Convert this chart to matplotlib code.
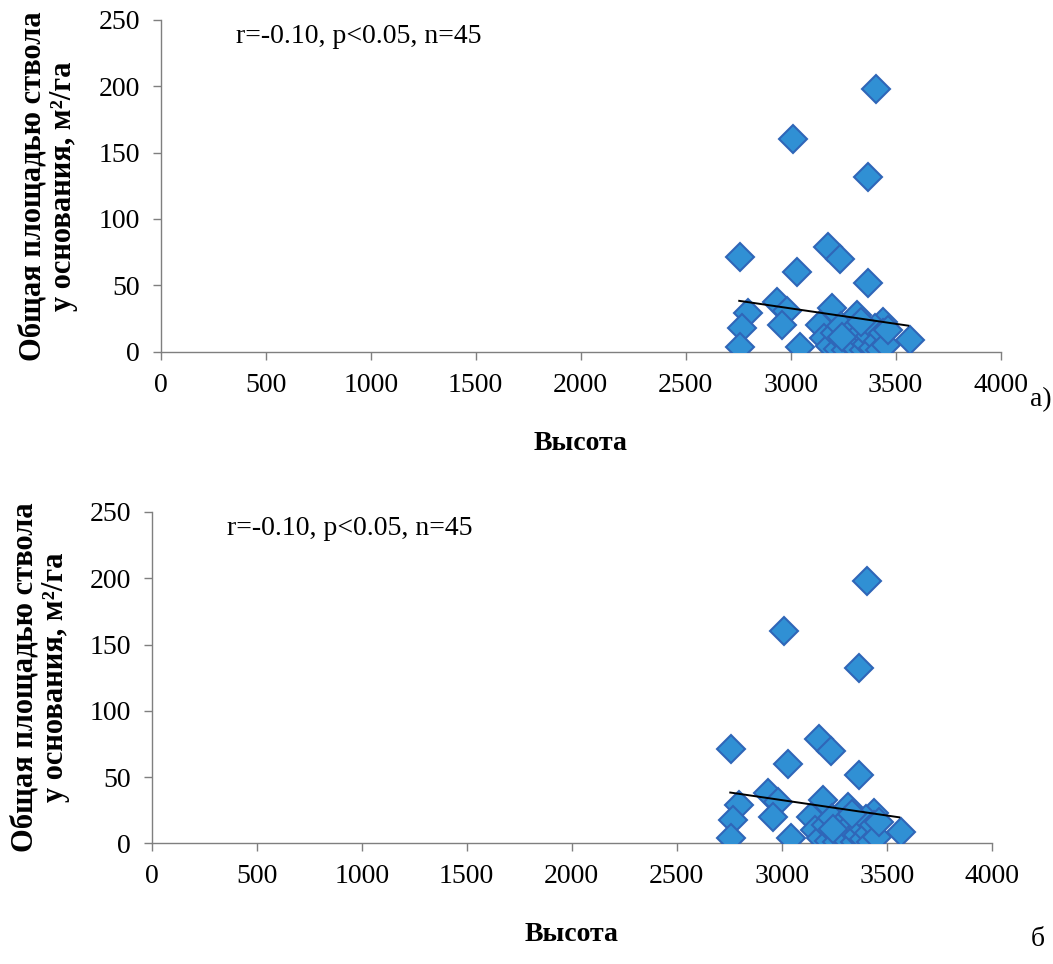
import numpy as np
import matplotlib.pyplot as plt

# Высота (m) and basal area (m2/ha)
height = [3406, 3010, 3367, 3179, 3235, 3030, 3370, 2759, 2798, 2767,
          2759, 2933, 2981, 2957, 3045, 3195, 3314, 3140, 3441, 3568,
          3160, 3185, 3210, 3225, 3240, 3255, 3265, 3280, 3290, 3300,
          3315, 3330, 3340, 3350, 3365, 3380, 3390, 3400, 3415, 3425,
          3440, 3455, 3465, 3245, 3335]
area = [198, 160, 132, 79, 69.5, 60, 51.5, 71, 29, 17.7,
        3.8, 37.8, 31, 20, 3.8, 32.8, 27.7, 20, 22.7, 8.9,
        10, 4, 14, 2, 19, 8, 1, 12, 5, 17,
        2, 10, 15, 1, 6, 12, 3, 18, 8, 1,
        14, 5, 16, 11, 22]

# trend line ends as drawn in the picture
trend_x = [2755, 3560]
trend_y = [38.3, 19.6]

stat_text = "r=-0.10, p<0.05, n=45"
ylab = "Общая площадью ствола\nу основания, м²/га"
xlab = "Высота"

plt.rcParams['font.family'] = ['Liberation Serif', 'DejaVu Serif']

fig = plt.figure(figsize=(10.53, 9.64), dpi=100)

panels = [
    ([0.1526, 0.6352, 0.7977, 0.3441], "а)", (0.978, 0.573), -0.098),
    ([0.1441, 0.1252, 0.7977, 0.3437], "б", (0.979, 0.012), -0.097),
]

for rect, tag, tag_pos, ylab_x in panels:
    ax = fig.add_axes(rect)
    ax.plot(height, area, linestyle='none', marker='D', ms=14,
            markerfacecolor='#3090d4', markeredgecolor='#2f66b8',
            markeredgewidth=1.5, zorder=3)
    ax.plot(trend_x, trend_y, color='black', lw=1.4, zorder=4)

    ax.set_xlim(0, 4000)
    ax.set_ylim(0, 250)
    ax.set_xticks(np.arange(0, 4001, 500))
    ax.set_yticks(np.arange(0, 251, 50))
    for side in ['top', 'right']:
        ax.spines[side].set_visible(False)
    for side in ['left', 'bottom']:
        ax.spines[side].set_color('#7f7f7f')
        ax.spines[side].set_linewidth(1.0)
    ax.tick_params(axis='both', direction='out', length=6, width=1.0,
                   color='#7f7f7f', labelsize=20, pad=9)

    ax.set_ylabel(ylab, fontsize=22, fontweight='bold', linespacing=1.1)
    ax.yaxis.set_label_coords(ylab_x, 0.5)
    ax.set_xlabel(xlab, fontsize=20, fontweight='bold', labelpad=24)

    ax.text(0.09, 0.95, stat_text, transform=ax.transAxes, fontsize=20,
            ha='left', va='center')
    fig.text(tag_pos[0], tag_pos[1], tag, fontsize=20, ha='left', va='bottom')

fig.savefig('out.png', dpi=100, facecolor='white')
